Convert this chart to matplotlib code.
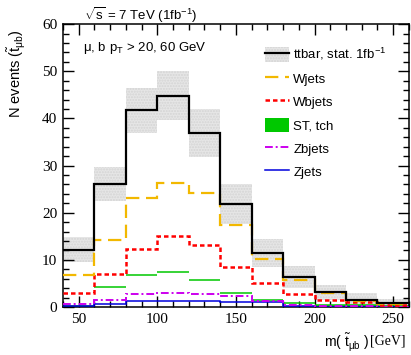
import numpy as np
import matplotlib
matplotlib.use("Agg")
import matplotlib.pyplot as plt
from matplotlib.patches import Patch
from matplotlib.lines import Line2D

plt.rcParams['font.family'] = ['Liberation Sans', 'DejaVu Sans']
plt.rcParams['mathtext.fontset'] = 'custom'
plt.rcParams['mathtext.rm'] = 'Liberation Sans'
plt.rcParams['mathtext.it'] = 'Liberation Sans:italic'

# bin edges in GeV
edges = [40, 60, 80, 100, 120, 140, 160, 180, 200, 220, 240, 260]

# event counts per bin
ttbar = [12.2, 26.1, 41.7, 44.8, 36.9, 21.9, 11.5, 6.4, 3.1, 1.6, 0.8]
ttbar_err = [2.6, 3.7, 4.8, 5.2, 5.0, 4.2, 3.0, 2.4, 1.6, 1.3, 1.0]
wjets = [6.8, 14.3, 23.2, 26.3, 24.1, 17.4, 10.2, 5.7, 2.9, 1.3, 0.6]
wbjets = [2.9, 7.0, 12.4, 15.0, 13.1, 8.5, 5.2, 2.8, 1.4, 1.0, 0.4]
st_tch = [0.3, 4.2, 6.9, 7.4, 5.7, 3.0, 1.5, 0.9, 0.5, 0.5, 0.2]
zbjets = [0.6, 1.5, 2.7, 2.9, 2.8, 2.4, 1.3, 0.5, 0.3, 0.2, 0.1]
zjets = [0.15, 0.6, 1.25, 1.3, 1.2, 1.05, 1.0, 0.2, 0.1, 0.1, 0.05]

c_w = '#f2b800'
c_wb = '#ff0000'
c_st = '#00c800'
c_zb = '#cc00ee'
c_z = '#0000dd'
c_band = '#e6e6e6'

fig = plt.figure(figsize=(4.11, 3.55), dpi=100)
ax = fig.add_axes([0.153, 0.135, 0.842, 0.797])

e = np.array(edges)
tt = np.array(ttbar)
err = np.array(ttbar_err)

# stat. band for ttbar
ax.stairs(tt + err, e, baseline=tt - err, fill=True, color=c_band,
          hatch='......', edgecolor='#d4d4d4', lw=0, zorder=1)

# ST t-channel as flat segments, small bins filled
st = np.array(st_tch)
ax.hlines(st, e[:-1], e[1:], color=c_st, lw=1.1, zorder=2)
small = st <= 0.5
ax.bar(e[:-1][small], st[small], width=20, align='edge', color=c_st,
       lw=0, zorder=2)

ax.stairs(zjets, e, baseline=None, color=c_z, lw=1.1, zorder=3)
ax.stairs(zbjets, e, baseline=None, color=c_zb, lw=1.4,
          linestyle=(0, (4, 1.5, 1, 1.5)), zorder=3)
ax.stairs(wbjets, e, baseline=None, color=c_wb, lw=1.8,
          linestyle=(0, (1.8, 1.2)), zorder=4)
ax.stairs(wjets, e, baseline=None, color=c_w, lw=1.6,
          linestyle=(0, (6, 3)), zorder=4)
ax.stairs(tt, e, baseline=None, color='black', lw=1.6, zorder=5)

ax.set_xlim(40, 260)
ax.set_ylim(0, 60)
ax.set_xticks([50, 100, 150, 200, 250])
ax.set_xticks(np.arange(40, 261, 10), minor=True)
ax.set_yticks([0, 10, 20, 30, 40, 50, 60])
ax.set_yticks(np.arange(0, 61, 2), minor=True)
ax.tick_params(which='both', direction='in', top=True, right=True, width=1.0)
ax.tick_params(which='major', length=8, labelsize=11, pad=4)
ax.tick_params(which='minor', length=4)
for lab in ax.get_xticklabels() + ax.get_yticklabels():
    lab.set_fontfamily('Liberation Serif')
for s in ax.spines.values():
    s.set_linewidth(1.1)

# axis titles
fig.text(0.042, 0.792, r"N events ($\tilde{\mathrm{t}}_{\mathrm{\mu b}}$)",
         rotation=90, ha='center', va='center', fontsize=10.5)
t_gev = fig.text(0.986, 0.03, "[GeV]", ha='right', va='baseline',
                 fontsize=10, family='Liberation Serif')
ax.annotate(r"m( $\tilde{\mathrm{t}}_{\mathrm{\mu b}}$ ) ", xy=(0, 0),
            xycoords=t_gev, ha='right', va='baseline', fontsize=10)

fig.text(0.205, 0.958, r"$\sqrt{\mathrm{s}}$ = 7 TeV (1fb$^{\mathrm{-1}}$)",
         ha='left', va='center', fontsize=9.5)
ax.text(0.058, 0.917, r"μ, b p$_{\mathrm{T}}$ > 20, 60 GeV",
        transform=ax.transAxes, ha='left', va='center', fontsize=9.5)

handles = [
    (Patch(facecolor=c_band, hatch='......', edgecolor='#d4d4d4', lw=0),
     Line2D([], [], color='black', lw=1.6)),
    Line2D([], [], color=c_w, lw=1.6, linestyle=(0, (6, 3))),
    Line2D([], [], color=c_wb, lw=1.8, linestyle=(0, (1.8, 1.2))),
    Patch(facecolor=c_st, lw=0),
    Line2D([], [], color=c_zb, lw=1.4, linestyle=(0, (4, 1.5, 1, 1.5))),
    Line2D([], [], color=c_z, lw=1.1),
]
labels = [r"ttbar, stat. 1fb$^{\mathrm{-1}}$", "Wjets", "Wbjets",
          "ST, tch", "Zbjets", "Zjets"]
ax.legend(handles, labels, loc='upper left', bbox_to_anchor=(0.584, 0.922),
          frameon=False, fontsize=9.5, handlelength=1.8, handleheight=1.3,
          labelspacing=0.66, handletextpad=0.35, borderpad=0,
          borderaxespad=0)

fig.savefig("out.png", dpi=100)
